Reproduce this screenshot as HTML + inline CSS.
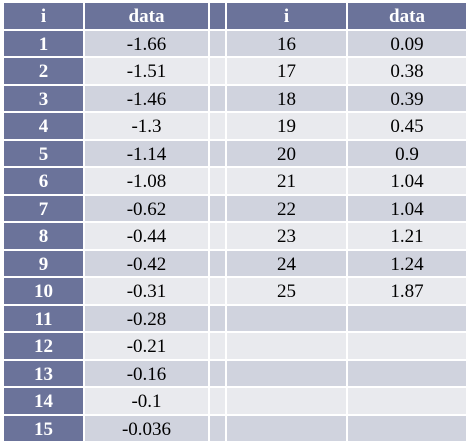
<!DOCTYPE html>
<html><head><meta charset="utf-8"><style>
body{margin:0;width:471px;height:447px;background:#fff;position:relative;overflow:hidden;font-family:"Liberation Serif",serif}
.c{position:absolute;display:flex;align-items:center;justify-content:center;font-size:19px;color:#000;box-sizing:border-box;padding-top:3px}
.h{background:#6b739a;color:#fff;font-weight:bold}
.o{background:#d0d3de}.e{background:#e9eaee}
</style></head><body>
<script>
const leftI=[1,2,3,4,5,6,7,8,9,10,11,12,13,14,15];
const leftData=["-1.66","-1.51","-1.46","-1.3","-1.14","-1.08","-0.62","-0.44","-0.42","-0.31","-0.28","-0.21","-0.16","-0.1","-0.036"];
const rightI=[16,17,18,19,20,21,22,23,24,25];
const rightData=["0.09","0.38","0.39","0.45","0.9","1.04","1.04","1.21","1.24","1.87"];
const cols=[[4,79],[85,123],[210,15],[227,119],[348,118]];
function cell(ci,r,txt,cls,name){
  const d=document.createElement('div');
  d.className='c '+cls;
  d.style.left=cols[ci][0]+'px';d.style.width=cols[ci][1]+'px';
  d.style.top=(3+r*27.5)+'px';d.style.height='25.5px';
  d.textContent=txt;
  
  
  document.body.appendChild(d);
}
cell(0,0,'i','h','header-i-left');
cell(1,0,'data','h','header-data-left');
cell(2,0,'','h','header-gap');
cell(3,0,'i','h','header-i-right');
cell(4,0,'data','h','header-data-right');
for(let r=1;r<=15;r++){
  const bg=r%2?'o':'e';
  cell(0,r,String(leftI[r-1]),'h','index-cell');
  cell(1,r,leftData[r-1],bg,'data-cell');
  cell(2,r,'',bg,'gap-cell');
  cell(3,r,r<=rightI.length?String(rightI[r-1]):'',bg,'index-cell-right');
  cell(4,r,r<=rightData.length?rightData[r-1]:'',bg,'data-cell-right');
}
</script>
</body></html>
